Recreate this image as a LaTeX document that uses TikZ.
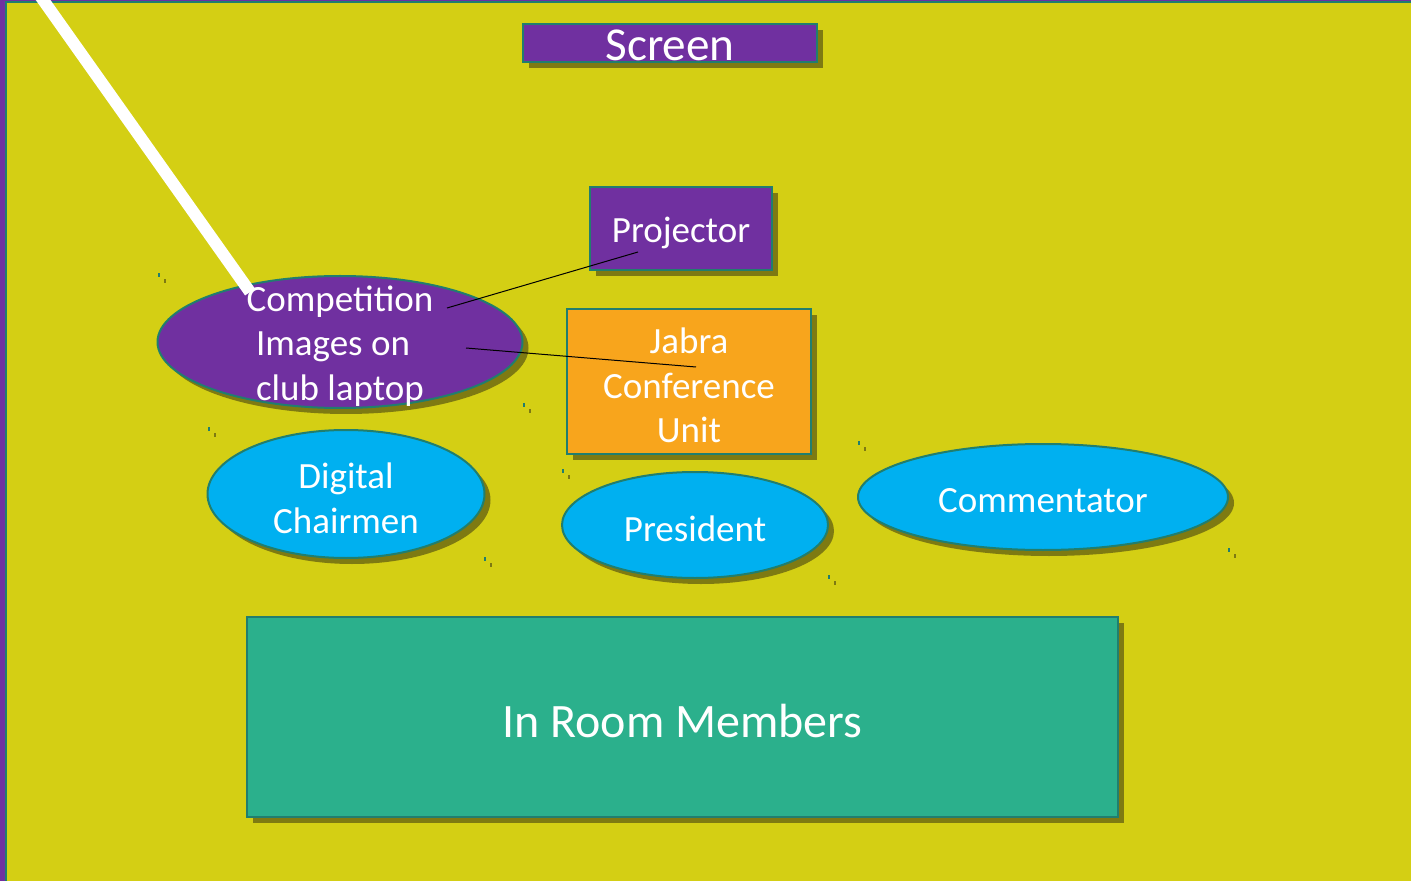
\documentclass[tikz,border=0pt]{standalone}
\usepackage{fontspec}
\setmainfont{Carlito}
\usepackage{tikz}
\usetikzlibrary{shapes.geometric,shadows}
\definecolor{roomyellow}{HTML}{D4CF14}
\definecolor{deckpurple}{HTML}{7030A0}
\definecolor{edgeteal}{HTML}{217E6E}
\definecolor{seatblue}{HTML}{00B0F0}
\definecolor{jabraorange}{HTML}{F8A51C}
\definecolor{floorgreen}{HTML}{2BB08C}
\definecolor{shadeolive}{HTML}{7E7A12}

\begin{document}
\begin{tikzpicture}[x=0.5pt,y=-0.5pt,
        % define styles
        box/.style={
             draw=edgeteal,
             line width=1pt,
             rectangle,
             inner sep=0pt,
             drop shadow={shadow xshift=3pt,shadow yshift=-3pt,fill=shadeolive,opacity=1}
        },
        seat/.style={
             box,
             ellipse,
             fill=seatblue
        },
        caption/.style={
             text=white,
             align=center,
             yshift=-2pt,
             font=\fontsize{18.5}{22.3}\selectfont
        }
    ]

        % room and frame
        \useasboundingbox (0,0) rectangle (1411,881);
        \fill[deckpurple] (0,0) rectangle (1411,881);
        \fill[edgeteal] (5,1.5) rectangle (1411,881);
        \fill[roomyellow] (7,3) rectangle (1411,881);

        % front of the room
        \node[box, fill=deckpurple, minimum width=147pt, minimum height=19pt,
              label={[caption, yshift=1pt, font=\fontsize{23.6}{28}\selectfont]center:Screen}] (screen) at (670,43) {};
        \node[box, fill=deckpurple, minimum width=91pt, minimum height=41.5pt,
              label={[caption]center:Projector}] (beamer) at (681,228.5) {};
        \node[box, ellipse, fill=deckpurple, minimum width=182.5pt, minimum height=66pt,
              label={[caption]center:Competition\\Images on\kern7pt\null\\club laptop}] (laptop) at (340,342) {};
        \node[box, fill=jabraorange, minimum width=122pt, minimum height=72.5pt,
              label={[caption]center:Jabra\\Conference\\Unit}] (jabra) at (689,381.5) {};

        % seats
        \node[seat, minimum width=138.5pt, minimum height=64pt,
              label={[caption]center:Digital\\Chairmen}] (chair) at (346,494) {};
        \node[seat, minimum width=133pt, minimum height=53pt,
              label={[caption]center:President}] (president) at (695,525) {};
        \node[seat, minimum width=185pt, minimum height=53pt,
              label={[caption]center:Commentator}] (commentator) at (1043,497) {};

        \node[box, fill=floorgreen, minimum width=435.5pt, minimum height=100pt,
              label={[caption, font=\fontsize{24}{29}\selectfont]center:In Room Members}] (members) at (682.5,717) {};

        % specks at the ellipse corners
        \foreach \sx/\sy in {158/273, 208/427, 523/403, 484/557, 562/469, 828/575, 858/441, 1228/548}{
            \fill[edgeteal] (\sx,\sy) rectangle ++(2,4);
            \fill[shadeolive] (\sx+6,\sy+6) rectangle ++(2,4);
        }

        \coordinate (beamtop) at (36,-10);
        \coordinate (pointer) at (250,292);
        \coordinate (laptopA) at (447,308);
        \coordinate (beamerA) at (638,252);
        \coordinate (laptopB) at (466,348);
        \coordinate (jabraA) at (696,367);

        \path[draw=white, line width=6pt] (beamtop) -- (pointer);
        \path[draw=black, line width=0.5pt]
        (laptopA) edge (beamerA)
        (laptopB) edge (jabraA);
    \end{tikzpicture}
\end{document}
